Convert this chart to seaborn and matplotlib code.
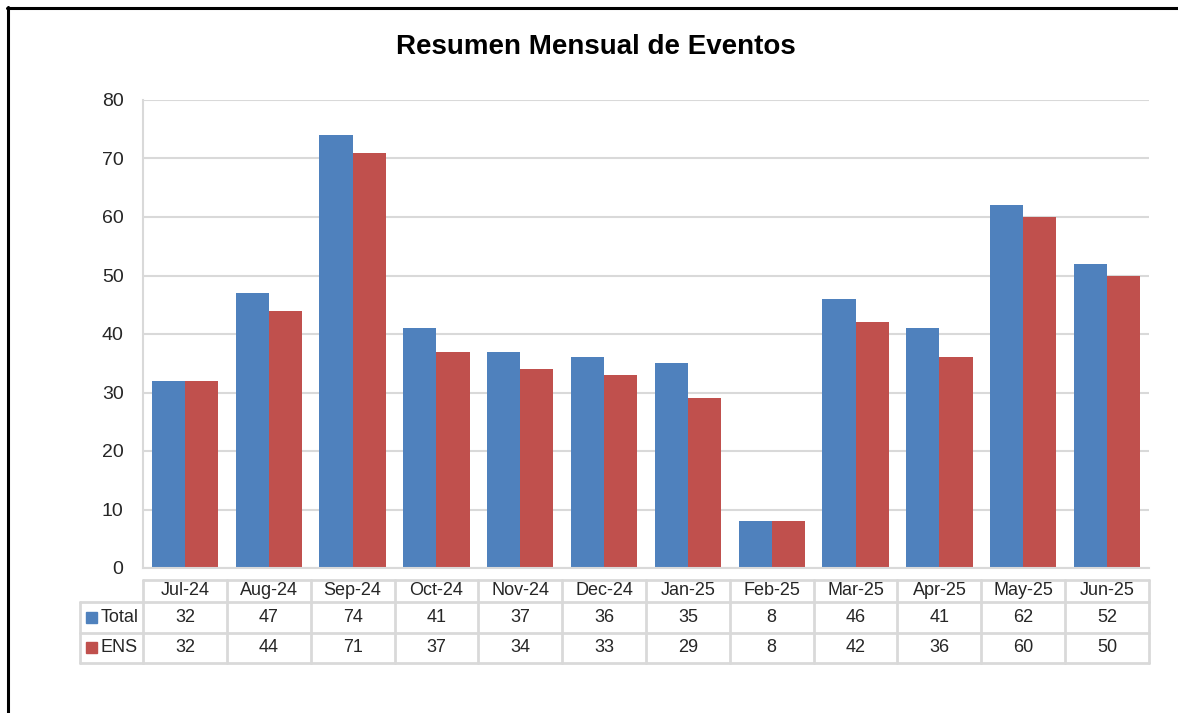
import matplotlib
matplotlib.use("Agg")
import matplotlib.pyplot as plt
import matplotlib.transforms as mtransforms
from matplotlib.patches import Rectangle
from matplotlib.lines import Line2D
import seaborn as sns
import pandas as pd
from matplotlib import font_manager

months = ["Jul-24", "Aug-24", "Sep-24", "Oct-24", "Nov-24", "Dec-24",
          "Jan-25", "Feb-25", "Mar-25", "Apr-25", "May-25", "Jun-25"]
total = [32, 47, 74, 41, 37, 36, 35, 8, 46, 41, 62, 52]
ens = [32, 44, 71, 37, 34, 33, 29, 8, 42, 36, 60, 50]
series_names = ["Total", "ENS"]
colors = ["#4F81BD", "#C0504D"]
yticks = [0, 10, 20, 30, 40, 50, 60, 70, 80]
title = "Resumen Mensual de Eventos"

sns.set_theme(style="white")
avail = {f.name for f in font_manager.fontManager.ttflist}
fam = "Liberation Sans Narrow" if "Liberation Sans Narrow" in avail else "Liberation Sans"
plt.rcParams["font.family"] = [fam, "DejaVu Sans"]

df = pd.DataFrame({
    "month": months * 2,
    "value": total + ens,
    "series": [series_names[0]] * len(months) + [series_names[1]] * len(months),
})

W, H = 1178, 713
fig = plt.figure(figsize=(W / 100, H / 100), dpi=100)
fig.patch.set_facecolor("white")

def fx(px):
    return px / W

def fy(py):
    return 1 - py / H

ax = fig.add_axes([fx(143), fy(568), fx(1149) - fx(143), fy(100) - fy(568)])
sns.barplot(data=df, x="month", y="value", hue="series", palette=colors,
            order=months, hue_order=series_names, width=0.79, saturation=1,
            ax=ax, legend=False, edgecolor="none")
ax.set_xlim(-0.5, len(months) - 0.5)
ax.set_ylim(0, 80)
ax.set_yticks(yticks)
ax.set_yticklabels([str(t) for t in yticks], fontsize=14)
ax.set_xticks([])
ax.set_xlabel("")
ax.set_ylabel("")
ax.tick_params(axis="y", length=0, pad=14)
ax.yaxis.grid(True, color="#D9D9D9", linewidth=1.5)
ax.set_axisbelow(True)
for s in ["top", "right"]:
    ax.spines[s].set_visible(False)
for s in ["left", "bottom"]:
    ax.spines[s].set_color("#D9D9D9")
    ax.spines[s].set_linewidth(1.5)

# Title
fig.text(fx(596), fy(47), title, ha="center", va="center", fontsize=20,
         fontweight="bold", color="black")

# Outer frame (partial, as in the reference)
fig.add_artist(Line2D([fx(7), fx(1178)], [fy(7.5), fy(7.5)], color="black", lw=2.2))
fig.add_artist(Line2D([fx(7.5), fx(7.5)], [fy(7), fy(713)], color="black", lw=2.2))

# Data table
trans = mtransforms.blended_transform_factory(ax.transData, fig.transFigure)
grid_c = "#D9D9D9"
lw = 2
y_top, y_h, y_r1, y_r2 = fy(580), fy(601.5), fy(632.5), fy(663)
n = len(months)
x_left = -0.5
x_right = n - 0.5
fig.add_artist(Line2D([x_left, x_right], [y_top, y_top], transform=trans, color=grid_c, lw=lw))
for yy in [y_h, y_r1, y_r2]:
    fig.add_artist(Line2D([fx(80), fx(143)], [yy, yy], transform=fig.transFigure, color=grid_c, lw=lw))
    fig.add_artist(Line2D([x_left, x_right], [yy, yy], transform=trans, color=grid_c, lw=lw))
for i in range(n + 1):
    xx = i - 0.5
    fig.add_artist(Line2D([xx, xx], [y_top, y_r2], transform=trans, color=grid_c, lw=lw))
fig.add_artist(Line2D([fx(80), fx(80)], [y_h, y_r2], transform=fig.transFigure, color=grid_c, lw=lw))

for i, m in enumerate(months):
    fig.text(i, (y_top + y_h) / 2, m, transform=trans, ha="center", va="center", fontsize=13)
rows = [total, ens]
row_y = [(y_h + y_r1) / 2, (y_r1 + y_r2) / 2]
for r, (vals, yy) in enumerate(zip(rows, row_y)):
    for i, v in enumerate(vals):
        fig.text(i, yy, str(v), transform=trans, ha="center", va="center", fontsize=13)
    fig.add_artist(Rectangle((fx(86), yy - (11 / H) / 2), 11 / W, 11 / H,
                             transform=fig.transFigure, color=colors[r]))
    fig.text(fx(101), yy, series_names[r], ha="left", va="center", fontsize=13)

fig.savefig("out.png", dpi=100, facecolor="white")
